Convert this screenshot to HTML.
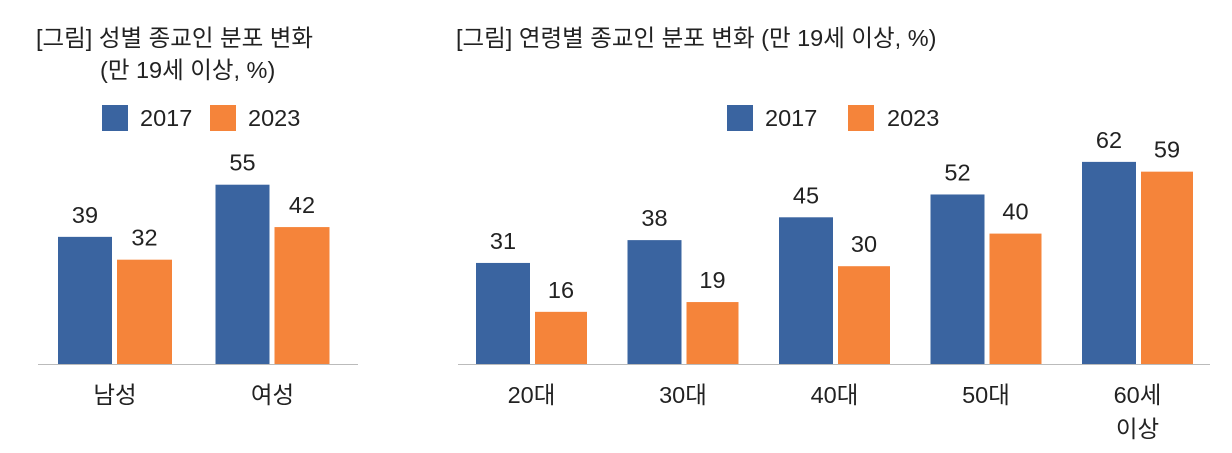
<!DOCTYPE html>
<html><head><meta charset="utf-8"><style>
body{margin:0;background:#fff;width:1232px;height:448px;overflow:hidden}
svg text{font-family:"Liberation Sans","Noto Sans CJK KR",sans-serif;fill:#222}
</style></head><body>
<svg id="c" width="1232" height="448">
<text x="36" y="46" font-size="23.5">[그림] 성별 종교인 분포 변화</text>
<text x="100" y="78" font-size="23.5">(만 19세 이상, %)</text>
<text x="456" y="46" font-size="23.5">[그림] 연령별 종교인 분포 변화 (만 19세 이상, %)</text>
<g>
<rect x="102" y="105" width="26" height="26" fill="#3a64a0"/>
<text x="140" y="126" font-size="23.5">2017</text>
<rect x="210" y="105" width="26" height="26" fill="#f5843a"/>
<text x="248" y="126" font-size="23.5">2023</text>
</g>
<g>
<rect x="727" y="105" width="26" height="26" fill="#3a64a0"/>
<text x="765" y="126" font-size="23.5">2017</text>
<rect x="848" y="105" width="26" height="26" fill="#f5843a"/>
<text x="887" y="126" font-size="23.5">2023</text>
</g>
</svg>
<script>
const genderCats=["남성","여성"];
const gender2017=[39,55];
const gender2023=[32,42];
const ageCats=[["20대"],["30대"],["40대"],["50대"],["60세","이상"]];
const age2017=[31,38,45,52,62];
const age2023=[16,19,30,40,59];

const svg=document.getElementById('c');
const NS="http://www.w3.org/2000/svg";
function mk(tag,attrs){const e=document.createElementNS(NS,tag);for(const k in attrs)e.setAttribute(k,attrs[k]);svg.appendChild(e);return e;}
const base=364, scale=3.26;
function y(v){return base-v*scale;}
function draw(cats,s1,s2,x0,x1,start,step,w1,gap,w2,prefix){
  const ax=mk('line',{x1:x0,x2:x1,y1:base+0.5,y2:base+0.5,stroke:'#bbb','stroke-width':1});
  
  
  cats.forEach((c,i)=>{
    const gx=start+i*step;
    const b1=mk('rect',{x:gx,y:y(s1[i]),width:w1,height:base-y(s1[i]),fill:'#3a64a0'});
    
    
    const bx2=gx+w1+gap;
    const b2=mk('rect',{x:bx2,y:y(s2[i]),width:w2,height:base-y(s2[i]),fill:'#f5843a'});
    
    
    const t1=mk('text',{x:gx+w1/2,y:y(s1[i])-14,'font-size':23.5,'text-anchor':'middle'});t1.textContent=s1[i];
    
    
    const t2=mk('text',{x:bx2+w2/2,y:y(s2[i])-14,'font-size':23.5,'text-anchor':'middle'});t2.textContent=s2[i];
    
    
    const lines=Array.isArray(c)?c:[c];
    const cx=gx+(w1+gap+w2)/2;
    lines.forEach((l,j)=>{
      const tl=mk('text',{x:cx,y:403+j*34,'font-size':23.5,'text-anchor':'middle'});tl.textContent=l;
      
      
    });
  });
}
draw(genderCats,gender2017,gender2023,38,358,58,157.5,54,5,55,'gender');
draw(ageCats,age2017,age2023,458,1210,476,151.5,54,5,52,'age');
</script>
</body></html>
